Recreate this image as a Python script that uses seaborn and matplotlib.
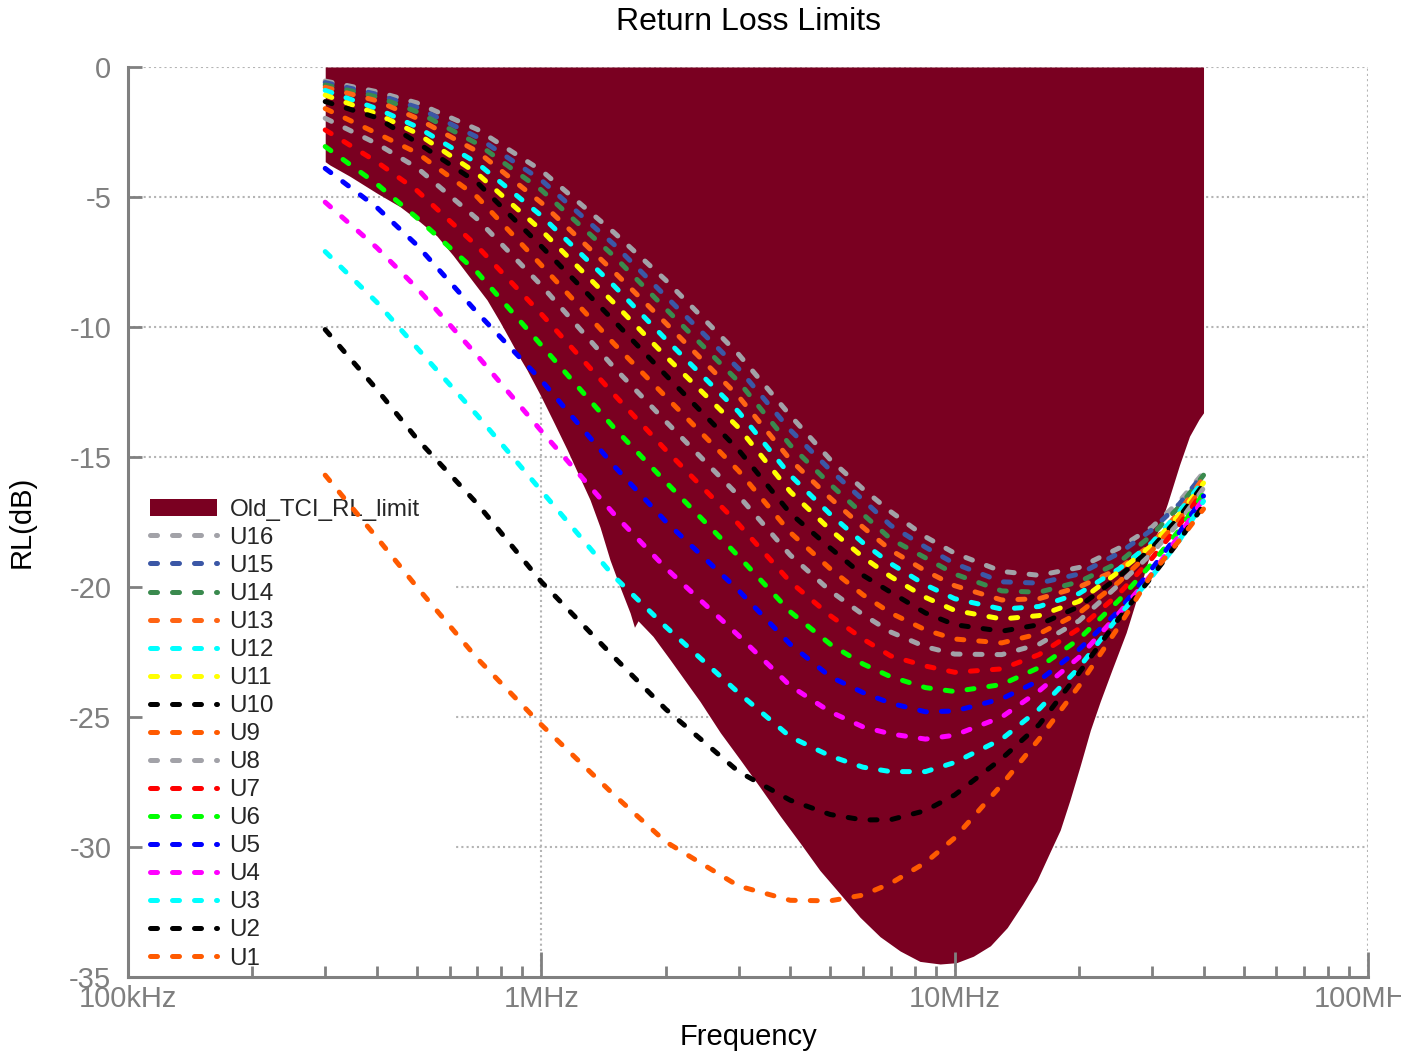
import numpy as np
import pandas as pd
import matplotlib
matplotlib.use("Agg")
import matplotlib.pyplot as plt
import seaborn as sns
from matplotlib.ticker import FixedLocator, FixedFormatter, LogLocator, NullFormatter
from matplotlib.patches import Patch

# ---------------- data (frequencies in MHz, return loss in dB) ----------------
freq_mhz = [0.3, 0.4, 0.5, 0.7, 1, 1.5, 2, 3, 4, 5, 6, 7, 8.5, 10, 13, 16, 20, 25, 30, 35, 40]

U16 = [-0.54, -0.95, -1.38, -2.4, -3.98, -6.37, -8.2, -11.05, -13.4, -15.1, -16.23, -17.1, -18.07, -18.7, -19.4, -19.55, -19.25, -18.5, -17.7, -16.7, -15.6]
U15 = [-0.6, -1.05, -1.55, -2.7, -4.35, -6.83, -8.82, -11.6, -13.96, -15.5, -16.65, -17.63, -18.47, -19.1, -19.8, -19.85, -19.5, -18.7, -17.8, -16.8, -15.65]
U14 = [-0.69, -1.15, -1.72, -2.95, -4.73, -7.28, -9.3, -12.1, -14.54, -16.05, -17.2, -18.15, -18.88, -19.5, -20.15, -20.2, -19.8, -19.05, -18.0, -16.9, -15.7]
U13 = [-0.78, -1.3, -1.97, -3.25, -5.22, -7.88, -9.85, -12.67, -15.1, -16.58, -17.7, -18.58, -19.38, -19.95, -20.5, -20.45, -20.0, -19.3, -18.35, -17.1, -15.8]
U12 = [-0.9, -1.6, -2.3, -3.7, -5.72, -8.42, -10.47, -13.26, -15.7, -17.2, -18.3, -19.1, -19.92, -20.45, -20.85, -20.75, -20.25, -19.3, -18.3, -17.1, -15.9]
U11 = [-1.08, -1.8, -2.55, -4.1, -6.28, -9.08, -11.13, -13.87, -16.33, -17.8, -18.85, -19.6, -20.4, -20.9, -21.23, -21.1, -20.55, -19.4, -18.4, -17.2, -16.0]
U10 = [-1.33, -1.95, -2.9, -4.45, -6.9, -9.77, -11.85, -14.73, -17.16, -18.5, -19.55, -20.2, -21.0, -21.45, -21.7, -21.45, -20.75, -19.6, -18.5, -17.3, -16.05]
U9 = [-1.6, -2.55, -3.3, -5.0, -7.62, -10.65, -12.68, -15.53, -17.9, -19.3, -20.3, -21.0, -21.65, -22.0, -22.15, -21.8, -21.0, -19.8, -18.6, -17.4, -16.1]
U8 = [-1.97, -2.95, -3.87, -5.85, -8.4, -11.56, -13.63, -16.49, -18.77, -20.15, -21.06, -21.73, -22.3, -22.58, -22.6, -22.2, -21.3, -19.9, -18.7, -17.5, -16.2]
U7 = [-2.42, -3.65, -4.75, -6.9, -9.5, -12.6, -14.73, -17.58, -19.8, -21.1, -22.0, -22.65, -23.04, -23.28, -23.15, -22.6, -21.6, -20.25, -18.9, -17.6, -16.3]
U6 = [-3.06, -4.5, -5.8, -7.9, -10.7, -13.88, -15.96, -18.82, -20.95, -22.2, -22.96, -23.45, -23.87, -24.02, -23.75, -23.1, -22.0, -20.5, -19.1, -17.8, -16.4]
U5 = [-3.9, -5.4, -6.85, -9.45, -12.05, -15.35, -17.48, -20.13, -22.2, -23.45, -24.06, -24.47, -24.8, -24.77, -24.3, -23.6, -22.4, -20.9, -19.3, -17.9, -16.5]
U4 = [-5.2, -6.95, -8.5, -11.1, -14.0, -17.2, -19.27, -21.87, -23.8, -24.8, -25.38, -25.65, -25.85, -25.7, -25.0, -24.0, -22.7, -21.0, -19.5, -18.0, -16.6]
U3 = [-7.1, -9.05, -10.8, -13.4, -16.3, -19.6, -21.53, -24.07, -25.76, -26.5, -26.93, -27.1, -27.1, -26.75, -25.85, -24.7, -23.1, -21.1, -19.6, -18.2, -16.7]
U2 = [-10.1, -12.4, -14.3, -16.8, -19.8, -22.7, -24.7, -27.1, -28.2, -28.75, -28.96, -28.95, -28.6, -28.0, -26.6, -25.3, -23.3, -21.2, -19.6, -18.2, -16.85]
U1 = [-15.7, -18.1, -20.0, -22.75, -25.3, -28.0, -29.8, -31.5, -32.05, -32.07, -31.85, -31.4, -30.6, -29.65, -27.6, -25.85, -23.8, -21.5, -19.5, -18.2, -17.0]

limit_freq_mhz = [0.3, 0.308, 0.344, 0.4, 0.455, 0.508, 0.559, 0.612, 0.672, 0.739, 0.794, 0.84,
                  0.888, 0.923, 0.993, 1.067, 1.153, 1.24, 1.312, 1.387, 1.466, 1.55, 1.64, 1.68,
                  1.714, 1.863, 2.05, 2.25, 2.42, 2.71, 3.03, 3.38, 3.78, 4.23, 4.72, 5.28, 5.9,
                  6.6, 7.38, 8.24, 9.22, 10.1, 11.1, 12.2, 13.4, 14.6, 15.8, 17.0, 18.0, 19.0,
                  20.1, 21.3, 22.5, 24.0, 26.0, 28.0, 30.0, 32.7, 35.0, 37.0, 39.0, 40.0]
limit_lower_db = [-3.64, -3.77, -4.2, -4.85, -5.37, -5.95, -6.5, -7.25, -8.1, -8.96, -9.8, -10.5,
                  -11.2, -11.65, -12.6, -13.6, -14.7, -15.8, -16.65, -17.7, -18.96, -20.0, -21.0, -21.55,
                  -21.3, -21.9, -22.8, -23.7, -24.4, -25.6, -26.65, -27.7, -28.8, -29.85, -30.9, -31.8, -32.7,
                  -33.45, -34.0, -34.4, -34.5, -34.45, -34.2, -33.8, -33.1, -32.2, -31.3, -30.2, -29.35, -28.2,
                  -26.9, -25.5, -24.4, -23.2, -21.75, -20.1, -18.5, -16.8, -15.3, -14.2, -13.55, -13.3]
limit_label = "Old_TCI_RL_limit"

series_names = ["U16", "U15", "U14", "U13", "U12", "U11", "U10", "U9",
                "U8", "U7", "U6", "U5", "U4", "U3", "U2", "U1"]
series_values = [U16, U15, U14, U13, U12, U11, U10, U9, U8, U7, U6, U5, U4, U3, U2, U1]
series_colors = ["#a2a2a8", "#3b57a6", "#3a8a4e", "#ff6414", "#00ffff", "#ffff00", "#000000", "#ff5a00",
                 "#a2a2a8", "#ff0000", "#00ff00", "#0000ff", "#ff00ff", "#00ffff", "#000000", "#ff5a00"]

xtick_vals = [1e5, 1e6, 1e7, 1e8]
xtick_labels = ["100kHz", "1MHz", "10MHz", "100MHz"]
ytick_vals = [0, -5, -10, -15, -20, -25, -30, -35]
ytick_labels = ["0", "-5", "-10", "-15", "-20", "-25", "-30", "-35"]

fill_color = "#7a0021"
axis_gray = "#808080"
grid_gray = "#b4b4b4"

# ---------------- plotting ----------------
sns.set_theme(style="white")
plt.rcParams["font.family"] = ["Liberation Sans", "DejaVu Sans"]
plt.rcParams["axes.unicode_minus"] = False

W, H = 1401, 1052
fig = plt.figure(figsize=(W / 100, H / 100), dpi=100)
ax = fig.add_axes([128 / W, 1 - 977 / H, 1240 / W, 910 / H])
ax.set_axisbelow(False)

# dotted grid drawn underneath everything (fill and legend box cover it)
grid_kw = dict(color=grid_gray, linestyle=(0, (1, 1.5)), linewidth=1.5, zorder=0.5)
for yv in ytick_vals[:-1]:
    ax.axhline(yv, **grid_kw)
for xv in xtick_vals[1:]:
    ax.axvline(xv, **grid_kw)

ax.fill_between(np.array(limit_freq_mhz) * 1e6, limit_lower_db, 0,
                color=fill_color, linewidth=0, zorder=1)

rows = []
for name, vals in zip(series_names, series_values):
    for f, v in zip(freq_mhz, vals):
        rows.append({"series": name, "freq_hz": f * 1e6, "rl": v})
df = pd.DataFrame(rows)

for name, col in zip(series_names, series_colors):
    sub = df[df["series"] == name]
    sns.lineplot(data=sub, x="freq_hz", y="rl", ax=ax, color=col, linewidth=3.6,
                 linestyle=(0, (1.4, 3.0)), dash_capstyle="round",
                 estimator=None, legend=False, zorder=3, label=name)

ax.set_xscale("log")
ax.set_xlim(1e5, 1e8)
ax.set_ylim(-35, 0)

ax.xaxis.set_major_locator(FixedLocator(xtick_vals))
ax.xaxis.set_major_formatter(FixedFormatter(xtick_labels))
ax.xaxis.set_minor_locator(LogLocator(base=10, subs=np.arange(2, 10)))
ax.xaxis.set_minor_formatter(NullFormatter())
ax.yaxis.set_major_locator(FixedLocator(ytick_vals))
ax.yaxis.set_major_formatter(FixedFormatter(ytick_labels))

ax.tick_params(axis="both", which="major", direction="in", color=axis_gray, width=2,
               labelcolor="#7f7f7f", labelsize=21)
ax.tick_params(axis="x", which="major", length=18, pad=6, bottom=True)
ax.tick_params(axis="x", which="minor", direction="in", length=8, width=2,
               color=axis_gray, bottom=True)
ax.tick_params(axis="y", which="major", length=10, pad=12, left=True)
ax.grid(False)

for side in ["top", "right"]:
    ax.spines[side].set_visible(False)
for side in ["left", "bottom"]:
    ax.spines[side].set_color(axis_gray)
    ax.spines[side].set_linewidth(2.2)

ax.set_title("Return Loss Limits", fontsize=23, color="black", pad=27)
ax.set_xlabel("Frequency", fontsize=21, color="black", labelpad=7)
ax.set_ylabel("RL(dB)", fontsize=21, color="black", labelpad=24)

line_handles = [l for l in ax.get_lines() if l.get_label() in series_names]
handles = [Patch(facecolor=fill_color, edgecolor="none", label=limit_label)] + line_handles
leg = ax.legend(handles=handles, labels=[limit_label] + series_names,
                loc="upper left", bbox_to_anchor=(-0.0097, 0.5626),
                frameon=True, facecolor="white", edgecolor="none", framealpha=1,
                fontsize=17.4, handlelength=2.8, handletextpad=0.5, labelspacing=0.25,
                borderpad=1.4, borderaxespad=0)
leg.set_zorder(0.8)

fig.savefig("out.png", dpi=100)
